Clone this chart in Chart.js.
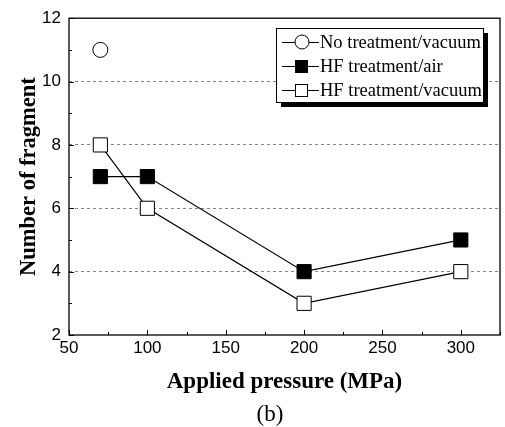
<!DOCTYPE html>
<html>
<head>
<meta charset="utf-8">
<script src="https://cdn.jsdelivr.net/npm/chart.js@4.4.1/dist/chart.umd.min.js"></script>
<style>
  html, body { margin: 0; padding: 0; background: #fff; }
  #wrap { width: 505px; height: 427px; }
</style>
</head>
<body>
<div id="wrap"><canvas id="chart" width="505" height="427"></canvas></div>
<script>
// Fragment count vs. applied pressure
const pressure = [70, 100, 200, 300]
const hfAir = [7, 7, 4, 5]
const hfVacuum = [8, 6, 3, 4]
const noTreatPressure = [70]
const noTreatVacuum = [11]

const xTicks = [50, 100, 150, 200, 250, 300]
const yTicks = [2, 4, 6, 8, 10, 12]
const panelLabel = "(b)"

const toPoints = (xs, ys) => xs.map((x, i) => ({ x: x, y: ys[i] }))

const serif = "'Liberation Serif', 'Times New Roman', serif"
const sans = "'Liberation Sans', Arial, sans-serif"

// Frame around the plot area plus inward major/minor ticks
const framePlugin = {
  id: "frame",
  afterDatasetsDraw(chart) {
    const { ctx, chartArea: a, scales } = chart
    ctx.save()
    ctx.strokeStyle = "#000"
    ctx.lineWidth = 1.3
    ctx.strokeRect(a.left, a.top, a.right - a.left, a.bottom - a.top)

    ctx.lineWidth = 1
    ctx.beginPath()
    for (let v = 50; v <= 325; v += 25) {
      const px = Math.round(scales.x.getPixelForValue(v)) + 0.5
      const len = v % 50 === 0 ? 5 : 3
      ctx.moveTo(px, a.bottom)
      ctx.lineTo(px, a.bottom - len)
    }
    for (let v = 2; v <= 12; v += 1) {
      const py = Math.round(scales.y.getPixelForValue(v)) + 0.5
      const len = v % 2 === 0 ? 5 : 3
      ctx.moveTo(a.left, py)
      ctx.lineTo(a.left + len, py)
    }
    ctx.stroke()
    ctx.restore()
  },
}

// Boxed legend with drop shadow: line segment, marker, label
const legendPlugin = {
  id: "boxLegend",
  afterDraw(chart) {
    const { ctx } = chart
    const left = 276, top = 28, w = 207, h = 74
    ctx.save()
    ctx.fillStyle = "#000"
    ctx.fillRect(left + 5, top + 5, w, h)
    ctx.fillStyle = "#fff"
    ctx.fillRect(left, top, w, h)
    ctx.strokeStyle = "#000"
    ctx.lineWidth = 1
    ctx.strokeRect(left + 0.5, top + 0.5, w, h)

    const order = [2, 0, 1]
    ctx.font = "18.5px " + serif
    ctx.textBaseline = "middle"
    order.forEach((di, row) => {
      const ds = chart.data.datasets[di]
      const y = top + 14 + row * 24
      ctx.strokeStyle = "#000"
      ctx.lineWidth = 1
      ctx.beginPath()
      ctx.moveTo(282, y + 0.5)
      ctx.lineTo(319, y + 0.5)
      ctx.stroke()
      if (ds.pointStyle === "circle") {
        ctx.beginPath()
        ctx.arc(302, y, 7, 0, Math.PI * 2)
        ctx.fillStyle = "#fff"
        ctx.fill()
        ctx.stroke()
      } else {
        ctx.fillStyle = ds.pointBackgroundColor
        ctx.fillRect(295, y - 6, 13, 13)
        ctx.strokeRect(295.5, y - 5.5, 12, 12)
      }
      ctx.fillStyle = "#000"
      ctx.fillText(ds.label, 320, y + 1)
    })
    ctx.restore()
  },
}

// Panel label under the x-axis title
const panelPlugin = {
  id: "panelLabel",
  afterDraw(chart) {
    const { ctx } = chart
    ctx.save()
    ctx.font = "23px " + serif
    ctx.fillStyle = "#000"
    ctx.textAlign = "center"
    ctx.textBaseline = "middle"
    ctx.fillText(panelLabel, 270, 415)
    ctx.restore()
  },
}

const ctx = document.getElementById("chart").getContext("2d")

new Chart(ctx, {
  type: "scatter",
  data: {
    datasets: [
      {
        label: "HF treatment/air",
        data: toPoints(pressure, hfAir),
        showLine: true,
        borderColor: "#000",
        borderWidth: 1.2,
        pointStyle: "rect",
        pointRadius: 10,
        pointBorderWidth: 1,
        pointBorderColor: "#000",
        pointBackgroundColor: "#000",
      },
      {
        label: "HF treatment/vacuum",
        data: toPoints(pressure, hfVacuum),
        showLine: true,
        borderColor: "#000",
        borderWidth: 1.2,
        pointStyle: "rect",
        pointRadius: 10,
        pointBorderWidth: 1,
        pointBorderColor: "#000",
        pointBackgroundColor: "#fff",
      },
      {
        label: "No treatment/vacuum",
        data: toPoints(noTreatPressure, noTreatVacuum),
        showLine: false,
        pointStyle: "circle",
        pointRadius: 7.5,
        pointBorderWidth: 1,
        pointBorderColor: "#000",
        pointBackgroundColor: "#fff",
      },
    ],
  },
  options: {
    responsive: false,
    animation: false,
    events: [],
    layout: { autoPadding: false, padding: { top: 17, right: 5, left: 0, bottom: 31 } },
    scales: {
      x: {
        type: "linear",
        min: 50,
        max: 325,
        afterBuildTicks: (scale) => {
          scale.ticks = xTicks.map((v) => ({ value: v }))
        },
        afterFit: (scale) => {
          scale.height = 61
        },
        grid: { display: false, drawTicks: false },
        border: { display: false },
        ticks: {
          padding: 3,
          color: "#000",
          font: { family: sans, size: 17 },
        },
        title: {
          display: true,
          text: "Applied pressure (MPa)",
          color: "#000",
          padding: { top: 0, bottom: 0 },
          font: { family: serif, size: 23, weight: "bold" },
        },
      },
      y: {
        min: 2,
        max: 12,
        afterBuildTicks: (scale) => {
          scale.ticks = yTicks.map((v) => ({ value: v }))
        },
        afterFit: (scale) => {
          scale.width = 69
        },
        grid: {
          drawTicks: false,
          color: (c) => (c.tick && (c.tick.value === 2 || c.tick.value === 12) ? "rgba(0,0,0,0)" : "#666"),
          lineWidth: 0.8,
        },
        border: { display: false, dash: [3, 3] },
        ticks: {
          padding: 8,
          color: "#000",
          font: { family: sans, size: 17 },
        },
        title: {
          display: true,
          text: "Number of fragment",
          color: "#000",
          padding: { top: 16, bottom: 0 },
          font: { family: serif, size: 22.5, weight: "bold" },
        },
      },
    },
    plugins: {
      legend: { display: false },
      tooltip: { enabled: false },
    },
  },
  plugins: [framePlugin, legendPlugin, panelPlugin],
})
</script>
</body>
</html>
